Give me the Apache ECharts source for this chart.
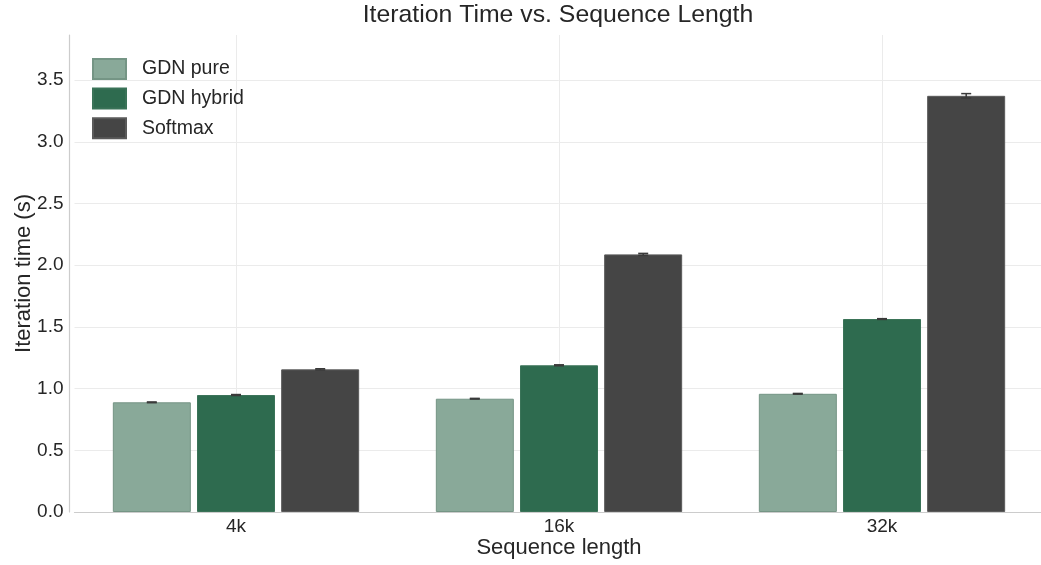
<!DOCTYPE html>
<html>
<head>
<meta charset="utf-8">
<script src="https://cdn.jsdelivr.net/npm/echarts@6/dist/echarts.min.js"></script>
<style>
  html, body { margin: 0; padding: 0; background: #fff; }
  #main { width: 1041px; height: 565px; }
</style>
</head>
<body>
<div id="main"></div>
<script>
// Data
const categories = ['4k', '16k', '32k'];
const seriesNames = ['GDN pure', 'GDN hybrid', 'Softmax'];
const gdnPure = [0.889, 0.918, 0.958];
const gdnHybrid = [0.948, 1.189, 1.564];
const softmax = [1.156, 2.088, 3.373];
const gdnPureErr = [0.003, 0.003, 0.003];
const gdnHybridErr = [0.004, 0.004, 0.003];
const softmaxErr = [0.005, 0.008, 0.018];

const colors = ['#89a999', '#2e6b4f', '#454545'];
const borders = ['#759585', '#3a7358', '#5a5a5a'];
const textColor = '#262626';
const font = '"Liberation Sans", Arial, sans-serif';

const barWidth = 78;
const barGapPx = 6.2;
const offsets = [-(barWidth + barGapPx), 0, barWidth + barGapPx];

let myChart = echarts.init(document.getElementById('main'));

function barSeries(name, values, i) {
    return {
        name: name,
        type: 'bar',
        barWidth: barWidth,
        barGap: (barGapPx / barWidth * 100).toFixed(1) + '%',
        itemStyle: { color: colors[i], borderColor: borders[i], borderWidth: 1 },
        data: values
    };
}

// Error bars drawn with a custom series, offset to each bar's centre
function errSeries(values, errs, i) {
    return {
        type: 'custom',
        z: 5,
        silent: true,
        renderItem: (params, api) => {
            const x = api.coord([api.value(0), 0])[0] + offsets[i];
            const hi = api.coord([api.value(0), api.value(1) + api.value(2)])[1];
            const lo = api.coord([api.value(0), api.value(1) - api.value(2)])[1];
            const style = { stroke: '#3a3a3a', lineWidth: 1.5 };
            return {
                type: 'group',
                children: [
                    { type: 'line', shape: { x1: x, y1: hi, x2: x, y2: lo }, style: style },
                    { type: 'line', shape: { x1: x - 5, y1: hi, x2: x + 5, y2: hi }, style: style },
                    { type: 'line', shape: { x1: x - 5, y1: lo, x2: x + 5, y2: lo }, style: style }
                ]
            };
        },
        data: values.map((v, k) => [k, v, errs[k]])
    };
}

let option = {
    animation: false,
    textStyle: { fontFamily: font },
    title: {
        text: 'Iteration Time vs. Sequence Length',
        left: 553,
        textAlign: 'center',
        top: -2,
        textStyle: { fontSize: 24.8, fontWeight: 'normal', color: textColor, fontFamily: font }
    },
    legend: {
        orient: 'vertical',
        left: 87,
        top: 53,
        itemWidth: 33,
        itemHeight: 20,
        itemGap: 7.6,
        icon: 'rect',
        textStyle: {
            fontSize: 19.5,
            color: textColor,
            fontFamily: font,
            padding: [0, 0, 0, 11]
        },
        data: seriesNames
    },
    grid: {
        left: 74.5,
        right: -2.5,
        top: 35,
        bottom: 53,
        outerBoundsMode: 'none'
    },
    xAxis: {
        type: 'category',
        data: categories,
        name: 'Sequence length',
        nameLocation: 'middle',
        nameGap: 24.5,
        nameMoveOverlap: false,
        nameTextStyle: { fontSize: 22, color: textColor, fontFamily: font },
        axisLine: { show: true, lineStyle: { color: '#cccccc', width: 1.2 } },
        axisTick: { show: false, alignWithLabel: true },
        axisLabel: { fontSize: 19, color: textColor, margin: 5 },
        splitLine: { show: true, alignWithLabel: true, lineStyle: { color: '#ebebeb', width: 1 } }
    },
    yAxis: {
        type: 'value',
        min: 0,
        max: 3.866,
        interval: 0.5,
        offset: 5.5,
        name: 'Iteration time (s)',
        nameLocation: 'middle',
        nameGap: 34,
        nameMoveOverlap: false,
        nameTextStyle: { fontSize: 22, color: textColor, fontFamily: font },
        axisLine: { show: true, lineStyle: { color: '#cccccc', width: 1.2 } },
        axisTick: { show: false },
        axisLabel: {
            fontSize: 19,
            color: textColor,
            margin: 5.5,
            showMaxLabel: false,
            formatter: (v) => v.toFixed(1)
        },
        splitLine: { show: true, showMaxLine: false, lineStyle: { color: '#ebebeb', width: 1 } }
    },
    series: [
        barSeries(seriesNames[0], gdnPure, 0),
        barSeries(seriesNames[1], gdnHybrid, 1),
        barSeries(seriesNames[2], softmax, 2),
        errSeries(gdnPure, gdnPureErr, 0),
        errSeries(gdnHybrid, gdnHybridErr, 1),
        errSeries(softmax, softmaxErr, 2)
    ]
};

option && myChart.setOption(option);
</script>
</body>
</html>
